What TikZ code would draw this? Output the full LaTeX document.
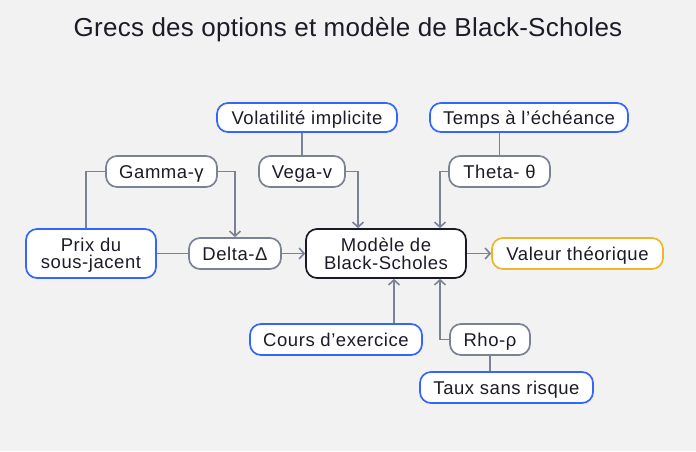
\documentclass[tikz,border=0pt]{standalone}
\usepackage{fontspec}
\setmainfont{Liberation Sans}
\newfontfamily\nodefont[LetterSpace=3]{Liberation Sans}
\newfontfamily\titlefont[LetterSpace=1]{Liberation Sans}
\usetikzlibrary{arrows.meta}
\definecolor{bg}{HTML}{F2F2F2}
\definecolor{blueb}{HTML}{3366FF}
\definecolor{grayb}{HTML}{7A8296}
\definecolor{blackb}{HTML}{1A1A24}
\definecolor{yellowb}{HTML}{F0B428}
\definecolor{txt}{HTML}{1C1C28}
\definecolor{connc}{HTML}{7A8296}
\begin{document}
\begin{tikzpicture}[x=1pt,y=-1pt,
  box/.style={draw, fill=white, rounded corners=11pt, line width=1.7pt, text=txt,
    font=\nodefont\fontsize{18.5}{17.5}\selectfont, inner sep=0pt, align=center},
  one/.style={text height=13.5pt, text depth=0pt},
  two/.style={text depth=0pt},
  inputbox/.style={box, draw=blueb},
  greekbox/.style={box, draw=grayb},
  modelbox/.style={box, draw=blackb},
  outbox/.style={box, draw=yellowb},
  conn/.style={draw=connc, line width=1.6pt},
  arr/.style={conn, -{Straight Barb[length=5pt,width=11pt]}},
]
\fill[bg] (0,0) rectangle (696,451);
\useasboundingbox (0,0) rectangle (696,451);
\node[text=txt, font=\titlefont\fontsize{26}{26}\selectfont, text height=18.6pt, text depth=0pt, inner sep=0pt] (title) at (348,27) {Grecs des options et modèle de Black-Scholes};

\node[inputbox, one, minimum width=180pt, minimum height=29pt] (vol) at (307,117.5) {Volatilité implicite};
\node[inputbox, one, minimum width=198pt, minimum height=29pt] (temps) at (529,117.5) {Temps à l’échéance};
\node[greekbox, one, minimum width=111pt, minimum height=31pt] (gamma) at (161.5,171.5) {Gamma-γ};
\node[greekbox, one, minimum width=86pt, minimum height=31pt] (vega) at (302,171.5) {Vega-v};
\node[greekbox, one, minimum width=101pt, minimum height=31pt] (theta) at (499.5,171.5) {Theta- θ};
\node[inputbox, two, minimum width=130pt, minimum height=49pt] (prix) at (91,253.5) {Prix du\\sous-jacent};
\node[greekbox, one, minimum width=92pt, minimum height=31pt] (delta) at (235,253.5) {Delta-Δ};
\node[modelbox, two, minimum width=160pt, minimum height=49pt] (model) at (386,253.5) {Modèle de\\Black-Scholes};
\node[outbox, one, minimum width=171pt, minimum height=31pt] (val) at (577.5,253.5) {Valeur théorique};
\node[inputbox, one, minimum width=172pt, minimum height=31pt] (cours) at (336,339.5) {Cours d’exercice};
\node[greekbox, one, minimum width=80pt, minimum height=31pt] (rho) at (490,339.5) {Rho-ρ};
\node[inputbox, one, minimum width=173pt, minimum height=31pt] (taux) at (506.5,387.5) {Taux sans risque};

\coordinate (mtl) at ([xshift=-28pt]model.north);
\coordinate (mtr) at ([xshift=54pt]model.north);
\coordinate (mbl) at ([xshift=8pt]model.south);
\coordinate (mbr) at ([xshift=54pt]model.south);
\coordinate (ptop) at ([xshift=-5pt]prix.north);

\draw[conn] (vega.north) -- (vega.north |- vol.south);
\draw[arr] (vega.east) -| (mtl);
\draw[conn] (theta.north) -- (theta.north |- temps.south);
\draw[arr] (theta.west) -| (mtr);
\draw[conn] (gamma.west) -| (ptop);
\draw[arr] (gamma.east) -| (delta.north);
\draw[conn] (prix.east) -- (delta.west);
\draw[arr] (delta.east) -- (model.west);
\draw[arr] (model.east) -- (val.west);
\draw[arr] (mbl |- cours.north) -- (mbl);
\draw[arr] (rho.west) -| (mbr);
\draw[conn] (rho.south) -- (rho.south |- taux.north);
\end{tikzpicture}
\end{document}
